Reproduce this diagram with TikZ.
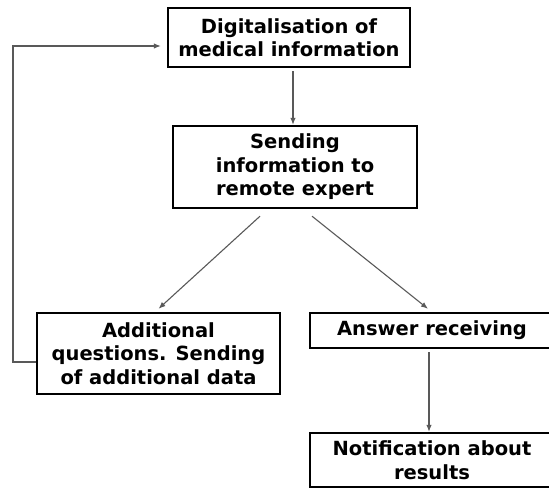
\documentclass[tikz,border=0pt]{standalone}
\usepackage{fontspec}
\setmainfont{DejaVu Sans}
\usetikzlibrary{arrows.meta}

\tikzset{
  box/.style={draw=black, line width=2.4pt, rectangle, align=center, inner sep=2pt,
              font=\fontsize{19.5}{23.5}\selectfont\bfseries},
  arr/.style={draw=black!65, line width=1.1pt, -{Latex[length=7pt,width=5.5pt]}}
}

\begin{document}
\begin{tikzpicture}[x=1pt,y=-1pt, line join=miter]

\useasboundingbox (0,0) rectangle (549,489);
\clip (0,0) rectangle (549,489);

% 方框
\node[box, minimum width=242pt, minimum height=59pt] (dig)  at (289,37.5)  {Digitalisation of\\medical information};
\node[box, minimum width=244pt, minimum height=82pt] (send) at (295,167)   {Sending\\information to\\remote expert};
\node[box, minimum width=243pt, minimum height=81pt] (add)  at (158.5,353.5) {Additional\\questions. Sending\\of additional data};
\node[box, minimum width=244pt, minimum height=35pt] (ans)  at (432,330.5) {Answer receiving};
\node[box, minimum width=244pt, minimum height=54pt] (note) at (432,460)   {Notification about\\results};

% 连线
\draw[arr] ([xshift=4pt,yshift=-3pt]dig.south) -- ([xshift=-2pt]send.north);
\draw[arr] ([xshift=-35pt,yshift=-7pt]send.south) -- ([yshift=3pt]add.north);
\draw[arr] ([xshift=17pt,yshift=-7pt]send.south) -- ([xshift=-4pt,yshift=3pt]ans.north);
\draw[arr] ([xshift=-3pt,yshift=-3pt]ans.south) -- ([xshift=-3pt]note.north);

% 反馈回路
\coordinate (loop) at (13,46);
\draw[arr, shorten >=6pt] ([yshift=-8.5pt]add.west) -| (loop) -- (loop -| dig.west);

\end{tikzpicture}
\end{document}
